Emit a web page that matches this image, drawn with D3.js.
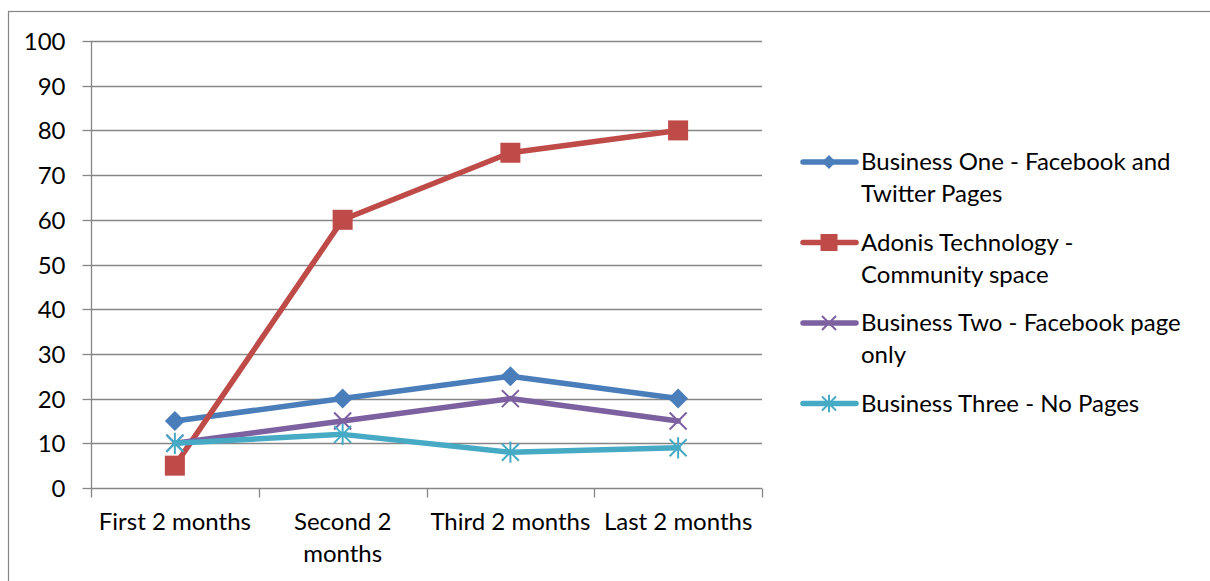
<!DOCTYPE html>
<html><head><meta charset="utf-8">
<script src="https://cdn.jsdelivr.net/npm/d3@7"></script>
<style>html,body{margin:0;padding:0;background:#fff;}svg{display:block;}text{font-family:Lato,"Open Sans",sans-serif;fill:#000;}</style>
</head><body>
<svg id="chart" width="1210" height="581"></svg>
<script>
const categories = ["First 2 months", "Second 2 months", "Third 2 months", "Last 2 months"];
const categoryLines = [["First 2 months"], ["Second 2", "months"], ["Third 2 months"], ["Last 2 months"]];
const yTicks = [0, 10, 20, 30, 40, 50, 60, 70, 80, 90, 100];
const seriesNames = ["Business One - Facebook and Twitter Pages", "Adonis Technology - Community space", "Business Two - Facebook page only", "Business Three - No Pages"];
const legendLines = [["Business One - Facebook and", "Twitter Pages"], ["Adonis Technology -", "Community space"], ["Business Two - Facebook page", "only"], ["Business Three - No Pages"]];
const businessOne = [15, 20, 25, 20];
const adonis = [5, 60, 75, 80];
const businessTwo = [10, 15, 20, 15];
const businessThree = [10, 12, 8, 9];
const colors = ["#4A7EBB", "#BE4B48", "#7D60A0", "#46AAC5"];
const markers = ["diamond", "square", "x", "asterisk"];

const series = [businessOne, adonis, businessTwo, businessThree].map((v, i) => ({name: seriesNames[i], values: v, color: colors[i], marker: markers[i], lines: legendLines[i]}));

const svg = d3.select("#chart");
const grid = "#868686";
const FS = 24;

// outer frame
svg.append("rect").attr("x", 8.5).attr("y", 11.5).attr("width", 1300).attr("height", 700)
  .attr("fill", "none").attr("stroke", grid).attr("stroke-width", 1.2);

const x = d3.scaleBand().domain(categories).range([91, 762]).padding(0);
const y = d3.scaleLinear().domain([0, 100]).range([488, 41]);

// gridlines
svg.append("g").selectAll("line").data(yTicks.filter(t => t > 0)).join("line")
  .attr("x1", 91).attr("x2", 762).attr("y1", d => Math.round(y(d)) + 0.5).attr("y2", d => Math.round(y(d)) + 0.5)
  .attr("stroke", grid).attr("stroke-width", 1.3);

// y axis
const yAxis = svg.append("g").attr("transform", "translate(91.5,0)")
  .call(d3.axisLeft(y).tickValues(yTicks).tickSize(9).tickPadding(17));
yAxis.select(".domain").attr("stroke", grid).attr("stroke-width", 1.3).attr("d", `M0,${y(100)}V${y(0)}`);
yAxis.selectAll(".tick line").attr("stroke", grid).attr("stroke-width", 1.3);
yAxis.selectAll(".tick").attr("transform", d => `translate(0,${Math.round(y(d)) + 0.5})`);
yAxis.selectAll(".tick text").attr("font-size", FS).attr("font-family", "Lato").attr("fill", "#000").attr("dy", "0.35em");

// x axis
const y0 = Math.round(y(0)) + 0.5;
svg.append("line").attr("x1", 91).attr("x2", 762).attr("y1", y0).attr("y2", y0).attr("stroke", grid).attr("stroke-width", 1.3);
const bounds = categories.map(c => x(c)).concat([x.range()[1]]);
svg.append("g").selectAll("line").data(bounds).join("line")
  .attr("x1", d => Math.round(d) + 0.5).attr("x2", d => Math.round(d) + 0.5)
  .attr("y1", y0).attr("y2", y0 + 9).attr("stroke", grid).attr("stroke-width", 1.3);
const xl = svg.append("g").selectAll("text").data(categories).join("text")
  .attr("text-anchor", "middle").attr("font-size", FS)
  .attr("transform", d => `translate(${x(d) + x.bandwidth() / 2},530)`);
xl.selectAll("tspan").data((d, i) => categoryLines[i]).join("tspan")
  .attr("x", 0).attr("dy", (d, i) => i === 0 ? 0 : 32).text(d => d);

function drawMarker(g, type, color, s) {
  if (type === "diamond") {
    g.append("path").attr("d", `M0,${-s}L${s},0L0,${s}L${-s},0Z`).attr("fill", color);
  } else if (type === "square") {
    g.append("rect").attr("x", -s).attr("y", -s).attr("width", 2 * s).attr("height", 2 * s).attr("fill", color);
  } else if (type === "x") {
    g.append("path").attr("d", `M${-s},${-s}L${s},${s}M${-s},${s}L${s},${-s}`).attr("stroke", color).attr("stroke-width", 2).attr("fill", "none");
  } else {
    g.append("path").attr("d", `M${-s},${-s}L${s},${s}M${-s},${s}L${s},${-s}M0,${-s * 1.25}V${s * 1.25}`).attr("stroke", color).attr("stroke-width", 2).attr("fill", "none");
  }
}
const sizes = {diamond: 10, square: 10, x: 8.5, asterisk: 8.5};

const line = d3.line().x((d, i) => x(categories[i]) + x.bandwidth() / 2).y(d => y(d));
series.forEach(s => {
  svg.append("path").datum(s.values).attr("d", line).attr("fill", "none")
    .attr("stroke", s.color).attr("stroke-width", 5.5).attr("stroke-linejoin", "round").attr("stroke-linecap", "round");
  s.values.forEach((v, i) => {
    const g = svg.append("g").attr("transform", `translate(${x(categories[i]) + x.bandwidth() / 2},${y(v)})`);
    drawMarker(g, s.marker, s.color, sizes[s.marker]);
  });
});

// legend
const leg = svg.append("g");
series.forEach((s, i) => {
  const cy = 162 + i * 80.5;
  leg.append("line").attr("x1", 803).attr("x2", 856).attr("y1", cy).attr("y2", cy)
    .attr("stroke", s.color).attr("stroke-width", 5.5).attr("stroke-linecap", "round");
  const g = leg.append("g").attr("transform", `translate(829,${cy})`);
  drawMarker(g, s.marker, s.color, s.marker === "diamond" ? 7 : (s.marker === "square" ? 8.5 : 7));
  const t = leg.append("text").attr("x", 861).attr("y", cy + 8).attr("font-size", FS);
  t.selectAll("tspan").data(s.lines).join("tspan").attr("x", 861).attr("dy", (d, j) => j === 0 ? 0 : 32).text(d => d);
});
</script>
</body></html>
